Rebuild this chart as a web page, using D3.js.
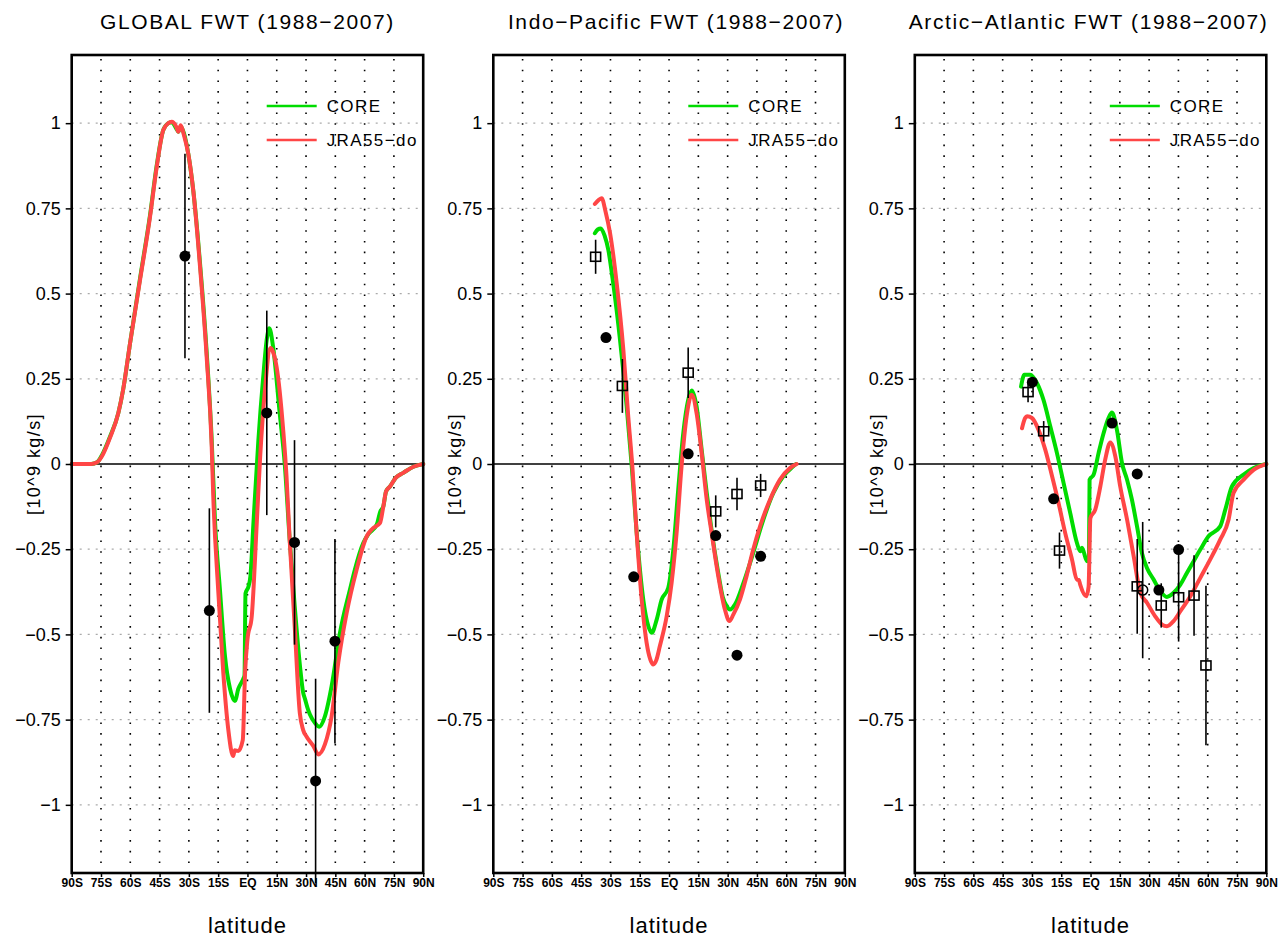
<!DOCTYPE html>
<html>
<head>
<meta charset="utf-8">
<script src="https://cdn.jsdelivr.net/npm/d3@7"></script>
<style>
  body { margin: 0; background: #fff; }
  svg text { font-family: "Liberation Sans", Arial, sans-serif; fill: #000; }
</style>
</head>
<body>
<svg id="chart" width="1287" height="939"></svg>
<script>
// ---- axis ticks / labels
var latTicks = [-90, -75, -60, -45, -30, -15, 0, 15, 30, 45, 60, 75, 90];
var latLabels = ["90S", "75S", "60S", "45S", "30S", "15S", "EQ", "15N", "30N", "45N", "60N", "75N", "90N"];
var fwtTicks = [-1, -0.75, -0.5, -0.25, 0, 0.25, 0.5, 0.75, 1];
var fwtLabels = ["\u22121", "\u22120.75", "\u22120.5", "\u22120.25", "0", "0.25", "0.5", "0.75", "1"];
var titles = ["GLOBAL FWT (1988\u22122007)", "Indo\u2212Pacific FWT (1988\u22122007)", "Arctic\u2212Atlantic FWT (1988\u22122007)"];
var seriesNames = ["CORE", "JRA55\u2212do"];

// ---- model curves [latitude, FWT]
var globalCore = [[-90,0],[-80,0],[-77,0.005],[-74.6,0.025],[-70.4,0.08],[-66.1,0.15],[-63.6,0.22],[-60.1,0.355],[-55,0.545],[-49.9,0.73],[-46.5,0.875],[-43.1,0.98],[-40.5,1.0],[-38.8,1.003],[-36.5,0.985],[-35.4,0.975],[-34.2,0.99],[-32.5,0.97],[-30.3,0.91],[-27.7,0.8],[-24.3,0.59],[-20.9,0.33],[-18.3,0.07],[-16.6,-0.17],[-14.1,-0.368],[-11.5,-0.564],[-8.9,-0.66],[-6.4,-0.695],[-4.7,-0.66],[-2.1,-0.63],[-1.5,-0.62],[-1.0,-0.38],[0.5,-0.36],[1.5,-0.33],[3.1,-0.17],[5.6,0.07],[8,0.25],[10,0.37],[11.2,0.398],[13.1,0.345],[16.5,0.15],[19.1,0],[21.6,-0.22],[24.2,-0.417],[26.9,-0.593],[28.5,-0.67],[29.5,-0.69],[31,-0.72],[32,-0.735],[34.6,-0.76],[36.8,-0.771],[39.7,-0.74],[43.1,-0.652],[47.4,-0.495],[52.5,-0.368],[55,-0.31],[59.3,-0.232],[62,-0.205],[66.2,-0.178],[68,-0.14],[69.6,-0.124],[71,-0.08],[73,-0.066],[76,-0.04],[79.8,-0.026],[85,-0.008],[90,0]];
var globalJra = [[-90,0],[-80,0],[-77,0.005],[-74.6,0.022],[-70.4,0.077],[-66.1,0.15],[-63.6,0.22],[-60.1,0.355],[-55,0.54],[-49.9,0.725],[-46.5,0.87],[-43.1,0.98],[-40.5,1.0],[-38.8,1.004],[-36.5,0.99],[-35.4,0.975],[-34.2,0.994],[-32.5,0.965],[-30.3,0.91],[-27.7,0.8],[-24.3,0.58],[-20.9,0.315],[-18.3,0.05],[-17.5,-0.095],[-15,-0.368],[-12.4,-0.61],[-9.8,-0.78],[-7.3,-0.857],[-6.5,-0.84],[-4.7,-0.842],[-2.4,-0.81],[-1.2,-0.61],[0,-0.515],[2.2,-0.447],[4.8,-0.17],[6.5,0.02],[9,0.22],[11.9,0.34],[13,0.33],[14.9,0.286],[18.3,0.1],[20,-0.036],[21.6,-0.22],[24.2,-0.476],[26.8,-0.73],[28.5,-0.78],[30.3,-0.8],[33.7,-0.827],[36.3,-0.852],[39.7,-0.822],[43.1,-0.74],[46.5,-0.583],[50.8,-0.437],[55.9,-0.31],[61.1,-0.212],[64,-0.19],[67.9,-0.173],[69.6,-0.124],[71,-0.08],[73,-0.066],[76,-0.04],[79.8,-0.026],[85,-0.008],[90,0]];

var indoCore = [[-38,0.677],[-36.5,0.688],[-35,0.691],[-33,0.67],[-31.1,0.628],[-28.6,0.53],[-25.1,0.364],[-21.7,0.169],[-19.1,-0.007],[-16.6,-0.2],[-13.2,-0.398],[-10.6,-0.476],[-8.9,-0.495],[-6.3,-0.456],[-3.8,-0.398],[-0.4,-0.363],[2.2,-0.251],[4.7,-0.075],[7.3,0.091],[9.8,0.188],[11.6,0.216],[14.1,0.169],[16.7,0.042],[19.3,-0.085],[21.8,-0.195],[25.2,-0.32],[27.5,-0.39],[29.5,-0.417],[31.2,-0.427],[33.8,-0.412],[38.1,-0.349],[43.1,-0.261],[48.3,-0.163],[53.4,-0.085],[58.5,-0.036],[63.6,-0.007],[65,0]];
var indoJra = [[-38,0.763],[-36,0.775],[-34.5,0.78],[-32.5,0.74],[-30.2,0.677],[-26.8,0.53],[-23.4,0.335],[-20.9,0.14],[-18.8,-0.007],[-16.6,-0.202],[-14,-0.398],[-11.5,-0.524],[-9.5,-0.575],[-8.1,-0.588],[-6.5,-0.575],[-4.7,-0.534],[-1.2,-0.446],[1.3,-0.349],[3.9,-0.2],[6.4,-0.007],[9,0.14],[11.6,0.203],[14.1,0.149],[16.7,0.032],[19.3,-0.105],[21.8,-0.202],[25.2,-0.329],[28.6,-0.427],[30.9,-0.461],[32.9,-0.442],[36.3,-0.398],[39.7,-0.329],[43.1,-0.251],[46.6,-0.183],[51.7,-0.105],[56.8,-0.046],[61.9,-0.012],[65.3,0]];

var atlCore = [[-35.6,0.227],[-33.9,0.262],[-30.9,0.262],[-27.4,0.237],[-24.1,0.188],[-20.6,0.11],[-17.2,0.032],[-13.8,-0.056],[-10.4,-0.144],[-7,-0.231],[-5.3,-0.256],[-4.4,-0.246],[-1.8,-0.285],[-0.8,-0.27],[-0.5,-0.046],[1.6,-0.031],[4.1,0.032],[6.7,0.091],[9.2,0.135],[11,0.151],[13.5,0.1],[16.1,0.003],[18.7,-0.046],[21.2,-0.105],[23.8,-0.183],[26.3,-0.261],[28.9,-0.305],[32.3,-0.339],[35.7,-0.373],[39.1,-0.39],[42.5,-0.378],[46,-0.354],[49.4,-0.319],[52.8,-0.285],[56.2,-0.251],[60.4,-0.212],[66.4,-0.183],[69,-0.134],[72.4,-0.066],[78.4,-0.031],[83.5,-0.012],[90,0]];
var atlJra = [[-35.1,0.105],[-33.5,0.135],[-32.5,0.14],[-30,0.135],[-26.6,0.1],[-23.2,0.042],[-19.7,-0.036],[-16.4,-0.114],[-13,-0.202],[-9.5,-0.28],[-7,-0.339],[-6,-0.34],[-5.3,-0.354],[-2.2,-0.388],[-1,-0.36],[-0.1,-0.159],[2.4,-0.134],[5,-0.066],[7.5,0.013],[10.1,0.063],[12.7,0.022],[15.2,-0.066],[18.7,-0.163],[22.1,-0.271],[25.5,-0.378],[28.9,-0.407],[33.1,-0.447],[36.6,-0.471],[39.1,-0.476],[42.5,-0.461],[46,-0.432],[51.1,-0.388],[56.2,-0.334],[61.3,-0.28],[66.4,-0.222],[70.7,-0.163],[73.2,-0.085],[78.4,-0.046],[83.5,-0.017],[90,0]];

// ---- observational estimates
var globalDotLat = [-32, -19.5, 9.9, 24.1, 34.9, 44.8];
var globalDotVal = [0.61, -0.43, 0.15, -0.23, -0.93, -0.52];
var globalDotErr = [0.3, 0.3, 0.3, 0.3, 0.3, 0.3];

var indoDotLat = [-32.3, -18.1, 9.8, 23.9, 34.8, 46.9];
var indoDotVal = [0.371, -0.331, 0.03, -0.21, -0.561, -0.271];
var indoBoxLat = [-37.6, -23.9, 9.8, 23.9, 34.8, 46.9];
var indoBoxVal = [0.608, 0.229, 0.268, -0.139, -0.088, -0.063];
var indoBoxErr = [0.05, 0.079, 0.074, 0.047, 0.048, 0.034];

var atlDotLat = [-29.8, -18.9, 11, 23.9, 35, 45.1];
var atlDotVal = [0.24, -0.102, 0.12, -0.029, -0.37, -0.251];
var atlBoxLat = [-32, -24, -15.9, 23.9, 36.2, 45.1, 53, 59.1];
var atlBoxVal = [0.211, 0.096, -0.254, -0.359, -0.415, -0.391, -0.386, -0.591];
var atlBoxErr = [0.03, 0.03, 0.053, 0.139, 0.065, 0.13, 0.118, 0.234];
var atlRingLat = [26.7];
var atlRingVal = [-0.37];
var atlRingErr = [0.2];

// ---- layout
var panelLeft = [71.7, 493.3, 914.8];
var panelW = 351.5;
var plotTop = 55, plotBottom = 873;
var titleShift = [0, 7, -2];
var colors = ["#00dc00", "#ff4646"];

function obs(lat, val, err) {
  return lat.map(function (d, i) { return { lat: d, val: val[i], err: err ? err[i] : 0 }; });
}

var panels = [
  { curves: [globalCore, globalJra], dots: obs(globalDotLat, globalDotVal, globalDotErr), boxes: [], rings: [] },
  { curves: [indoCore, indoJra], dots: obs(indoDotLat, indoDotVal), boxes: obs(indoBoxLat, indoBoxVal, indoBoxErr), rings: [] },
  { curves: [atlCore, atlJra], dots: obs(atlDotLat, atlDotVal), boxes: obs(atlBoxLat, atlBoxVal, atlBoxErr), rings: obs(atlRingLat, atlRingVal, atlRingErr) }
];

var svg = d3.select("#chart");
var y = d3.scaleLinear().domain([-1.2, 1.2]).range([plotBottom, plotTop]);

panels.forEach(function (p, k) {
  var left = panelLeft[k], right = left + panelW;
  var x = d3.scaleLinear().domain([-90, 90]).range([left, right]);
  var g = svg.append("g");

  // horizontal grey grid
  g.selectAll(".hg").data(fwtTicks.filter(function (d) { return d !== 0; }))
    .enter().append("line")
    .attr("x1", left).attr("x2", right)
    .attr("y1", function (d) { return y(d); }).attr("y2", function (d) { return y(d); })
    .attr("stroke", "#aaa").attr("stroke-width", 1.2).attr("stroke-dasharray", "2,6");

  // vertical dotted grid
  g.selectAll(".vg").data(latTicks.filter(function (d) { return Math.abs(d) < 90; }))
    .enter().append("line")
    .attr("x1", function (d) { return x(d); }).attr("x2", function (d) { return x(d); })
    .attr("y1", plotTop + 4).attr("y2", plotBottom)
    .attr("stroke", "#000").attr("stroke-width", 1.6).attr("stroke-dasharray", "1.6,9.1");

  // zero line
  g.append("line").attr("x1", left).attr("x2", right)
    .attr("y1", y(0)).attr("y2", y(0))
    .attr("stroke", "#000").attr("stroke-width", 1.6);

  // model curves
  var line = d3.line()
    .x(function (d) { return x(d[0]); })
    .y(function (d) { return y(d[1]); })
    .curve(d3.curveMonotoneX);
  p.curves.forEach(function (c, i) {
    g.append("path").datum(c).attr("d", line)
      .attr("fill", "none").attr("stroke", colors[i])
      .attr("stroke-width", 4).attr("stroke-linejoin", "round").attr("stroke-linecap", "round");
  });

  // error bars
  var withErr = p.dots.concat(p.boxes, p.rings).filter(function (d) { return d.err > 0; });
  g.selectAll(".eb").data(withErr).enter().append("line")
    .attr("x1", function (d) { return x(d.lat); }).attr("x2", function (d) { return x(d.lat); })
    .attr("y1", function (d) { return y(d.val + d.err); }).attr("y2", function (d) { return y(d.val - d.err); })
    .attr("stroke", "#000").attr("stroke-width", 1.6);

  // filled circles
  g.selectAll(".dot").data(p.dots).enter().append("circle")
    .attr("cx", function (d) { return x(d.lat); }).attr("cy", function (d) { return y(d.val); })
    .attr("r", 5.5).attr("fill", "#000");

  // open squares
  g.selectAll(".box").data(p.boxes).enter().append("rect")
    .attr("x", function (d) { return x(d.lat) - 5; }).attr("y", function (d) { return y(d.val) - 4.5; })
    .attr("width", 10).attr("height", 9)
    .attr("fill", "none").attr("stroke", "#000").attr("stroke-width", 1.6);

  // open circles
  g.selectAll(".ring").data(p.rings).enter().append("circle")
    .attr("cx", function (d) { return x(d.lat); }).attr("cy", function (d) { return y(d.val); })
    .attr("r", 5).attr("fill", "none").attr("stroke", "#000").attr("stroke-width", 1.5);

  // frame
  g.append("rect").attr("x", left).attr("y", plotTop).attr("width", panelW).attr("height", plotBottom - plotTop)
    .attr("fill", "none").attr("stroke", "#000").attr("stroke-width", 2.6);

  // y axis
  var ya = g.append("g").attr("transform", "translate(" + left + ",0)")
    .call(d3.axisLeft(y).tickValues(fwtTicks)
      .tickFormat(function (d, i) { return fwtLabels[i]; })
      .tickSize(6).tickPadding(5));
  ya.select(".domain").remove();
  ya.selectAll("line").attr("stroke", "#000").attr("stroke-width", 1.5);
  ya.selectAll("text").attr("font-size", 18).attr("font-family", "Liberation Sans, Arial, sans-serif");

  // x axis
  var xa = g.append("g").attr("transform", "translate(0," + plotBottom + ")")
    .call(d3.axisBottom(x).tickValues(latTicks)
      .tickFormat(function (d, i) { return latLabels[i]; })
      .tickSize(4).tickPadding(1));
  xa.select(".domain").remove();
  xa.selectAll("line").attr("stroke", "#000").attr("stroke-width", 1.5);
  xa.selectAll("text").attr("font-size", 12).attr("font-weight", "bold")
    .attr("font-family", "Liberation Sans, Arial, sans-serif");

  // title
  svg.append("text").attr("x", (left + right) / 2 + titleShift[k]).attr("y", 29)
    .attr("text-anchor", "middle").attr("font-size", 21).style("letter-spacing", "1.6px")
    .text(titles[k]);

  // axis titles
  svg.append("text").attr("transform", "translate(" + (left - 32) + "," + y(0) + ") rotate(-90)")
    .attr("text-anchor", "middle").attr("font-size", 18).style("letter-spacing", "1.4px")
    .text("[10^9 kg/s]");
  svg.append("text").attr("x", (left + right) / 2).attr("y", 933)
    .attr("text-anchor", "middle").attr("font-size", 22).style("letter-spacing", "1px")
    .text("latitude");

  // legend
  seriesNames.forEach(function (name, i) {
    var ly = 106 + i * 34;
    svg.append("line").attr("x1", left + 195).attr("x2", left + 245)
      .attr("y1", ly).attr("y2", ly)
      .attr("stroke", colors[i]).attr("stroke-width", 2.6);
    svg.append("text").attr("x", left + 255).attr("y", ly + 6)
      .attr("font-size", 17).style("letter-spacing", "1.4px")
      .text(name);
  });
});
</script>
</body>
</html>
